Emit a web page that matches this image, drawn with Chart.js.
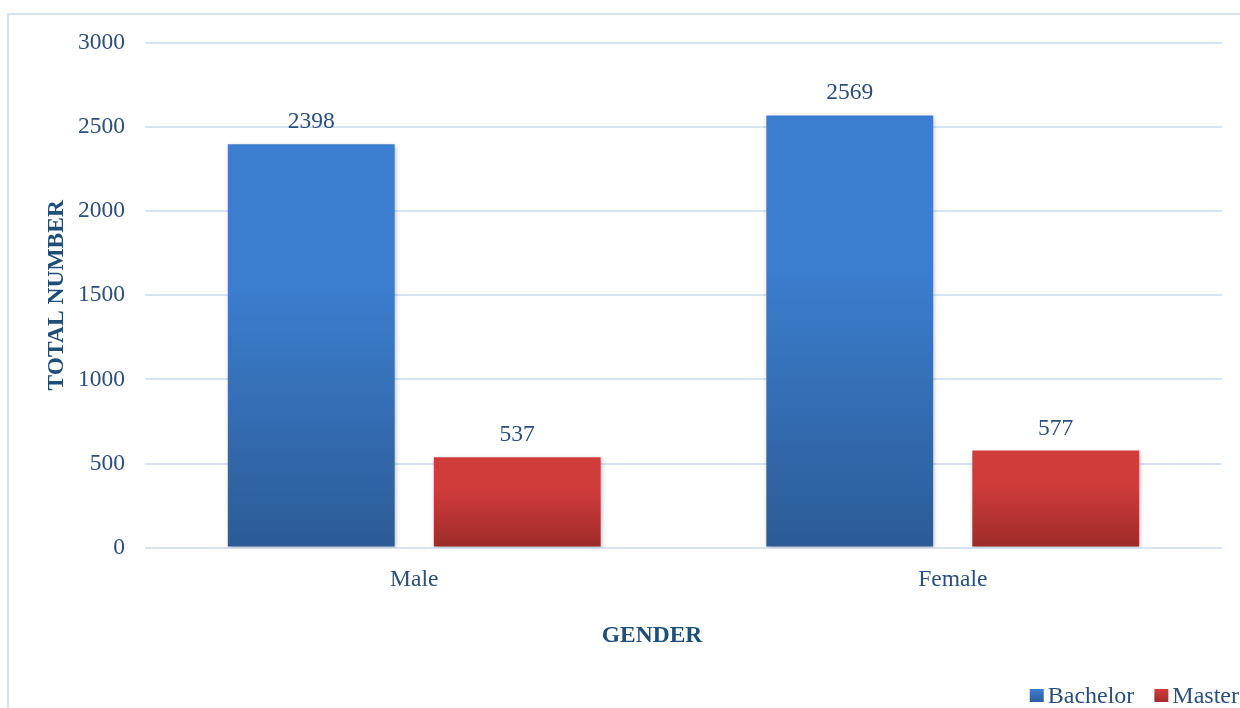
<!DOCTYPE html>
<html>
<head>
<meta charset="utf-8">
<script src="https://cdn.jsdelivr.net/npm/chart.js@4.4.1/dist/chart.umd.min.js"></script>
<style>
  html, body { margin: 0; padding: 0; background: #ffffff; }
  #wrap { width: 1240px; height: 708px; position: relative; }
</style>
</head>
<body>
<div id="wrap"><canvas id="barChart" width="1240" height="708"></canvas></div>
<script>
'use strict';

// Data
const categories = ['Male', 'Female'];
const bachelor   = [2398, 2569];
const master     = [537, 577];
const yTicks     = [0, 500, 1000, 1500, 2000, 2500, 3000];

const FONT  = "'Liberation Serif', 'Times New Roman', serif";
const SIZE  = 23.5;
const TEXT  = '#2a4f7f';
const TITLE = '#1f4e79';

const COLORS = {
  Bachelor: ['#3b7ecf', '#2c5b96'],
  Master:   ['#d03c3a', '#9c2b29'],
};

// gradient per bar, from bar top down to the base
function barGradient(top, bottom) {
  return function (context) {
    const chart = context.chart;
    const y = chart.scales.y;
    if (!chart.chartArea || !y || context.raw === undefined) return top;
    const y1 = y.getPixelForValue(context.raw);
    const y0 = y.getPixelForValue(0);
    const g = chart.ctx.createLinearGradient(0, y1, 0, y0);
    g.addColorStop(0, top);
    g.addColorStop(0.35, top);
    g.addColorStop(1, bottom);
    return g;
  };
}

// frame round the chart (only left and top edges are in view)
const framePlugin = {
  id: 'frame',
  beforeDraw(chart) {
    const ctx = chart.ctx;
    ctx.save();
    ctx.strokeStyle = '#d5e1f1';
    ctx.lineWidth = 2;
    ctx.strokeRect(8, 14, 1260, 720);
    ctx.restore();
  },
};

// soft shadow under bars
const shadowPlugin = {
  id: 'barShadow',
  beforeDatasetsDraw(chart) {
    const ctx = chart.ctx;
    ctx.save();
    ctx.shadowColor = 'rgba(0,0,0,0.28)';
    ctx.shadowBlur = 5;
    ctx.shadowOffsetX = 1;
    ctx.shadowOffsetY = 2;
  },
  afterDatasetsDraw(chart) {
    chart.ctx.restore();
  },
};

// value labels above the bars
const valueLabels = {
  id: 'valueLabels',
  afterDatasetsDraw(chart) {
    const ctx = chart.ctx;
    ctx.save();
    ctx.font = `${SIZE}px ${FONT}`;
    ctx.fillStyle = TEXT;
    ctx.textAlign = 'center';
    ctx.textBaseline = 'alphabetic';
    chart.data.datasets.forEach((ds, i) => {
      chart.getDatasetMeta(i).data.forEach((bar, j) => {
        ctx.fillText(String(ds.data[j]), bar.x, bar.y - 16);
      });
    });
    ctx.restore();
  },
};

// x axis title sits a little left of the plot centre in the original
const xTitle = {
  id: 'xTitle',
  afterDraw(chart) {
    const ctx = chart.ctx;
    const t = chart.options.scales.x.title;
    ctx.save();
    ctx.font = `bold ${SIZE}px ${FONT}`;
    ctx.fillStyle = TITLE;
    ctx.textAlign = 'center';
    ctx.textBaseline = 'middle';
    ctx.fillText(t.text, 652, 636);
    ctx.restore();
  },
};

// legend in the bottom right corner
const cornerLegend = {
  id: 'cornerLegend',
  afterDraw(chart) {
    const ctx = chart.ctx;
    const box = 14, gap = 4, between = 20, baseline = 703;
    ctx.save();
    ctx.font = `24px ${FONT}`;
    ctx.textBaseline = 'alphabetic';
    const items = chart.data.datasets.map((ds) => ({
      label: ds.label,
      w: box + gap + ctx.measureText(ds.label).width,
    }));
    const total = items.reduce((s, it) => s + it.w, 0) + between * (items.length - 1);
    let x = chart.width - 1 - total;
    items.forEach((it) => {
      const c = COLORS[it.label];
      const g = ctx.createLinearGradient(0, 689, 0, 689 + box);
      g.addColorStop(0, c[0]);
      g.addColorStop(1, c[1]);
      ctx.fillStyle = g;
      ctx.fillRect(x, 689, box, box - 1);
      ctx.fillStyle = TEXT;
      ctx.fillText(it.label, x + box + gap, baseline);
      x += it.w + between;
    });
    ctx.restore();
  },
};

const ctx = document.getElementById('barChart').getContext('2d');

new Chart(ctx, {
  type: 'bar',
  data: {
    labels: categories,
    datasets: [
      {
        label: 'Bachelor',
        data: bachelor,
        backgroundColor: barGradient(...COLORS.Bachelor),
        barPercentage: 0.81,
        categoryPercentage: 0.765,
      },
      {
        label: 'Master',
        data: master,
        backgroundColor: barGradient(...COLORS.Master),
        barPercentage: 0.81,
        categoryPercentage: 0.765,
      },
    ],
  },
  options: {
    responsive: false,
    animation: false,
    devicePixelRatio: 1,
    layout: { padding: { top: 43, right: 18, left: 43, bottom: 0 } },
    plugins: {
      legend: { display: false },
      tooltip: { enabled: false },
    },
    scales: {
      x: {
        grid: { display: false },
        border: { display: false },
        ticks: { font: { family: FONT, size: SIZE }, color: TEXT, padding: 10 },
        title: {
          display: true,
          text: 'GENDER',
          font: { family: FONT, size: SIZE, weight: 'bold' },
          color: 'rgba(0,0,0,0)', // space kept here, text drawn by xTitle
          padding: { top: 20, bottom: 56 },
        },
      },
      y: {
        min: 0,
        max: 3000,
        afterBuildTicks(axis) {
          axis.ticks = yTicks.map((v) => ({ value: v }));
        },
        afterFit(axis) {
          axis.width = 102;
        },
        grid: { color: '#d6e3f3', lineWidth: 2, drawTicks: false },
        border: { display: false },
        ticks: {
          font: { family: FONT, size: SIZE },
          color: TEXT,
          padding: 20,
          callback: (v) => String(v),
        },
        title: {
          display: true,
          text: 'TOTAL NUMBER',
          font: { family: FONT, size: SIZE, weight: 'bold' },
          color: TITLE,
          padding: { top: 0, bottom: 7 },
        },
      },
    },
  },
  plugins: [framePlugin, shadowPlugin, valueLabels, xTitle, cornerLegend],
});
</script>
</body>
</html>
